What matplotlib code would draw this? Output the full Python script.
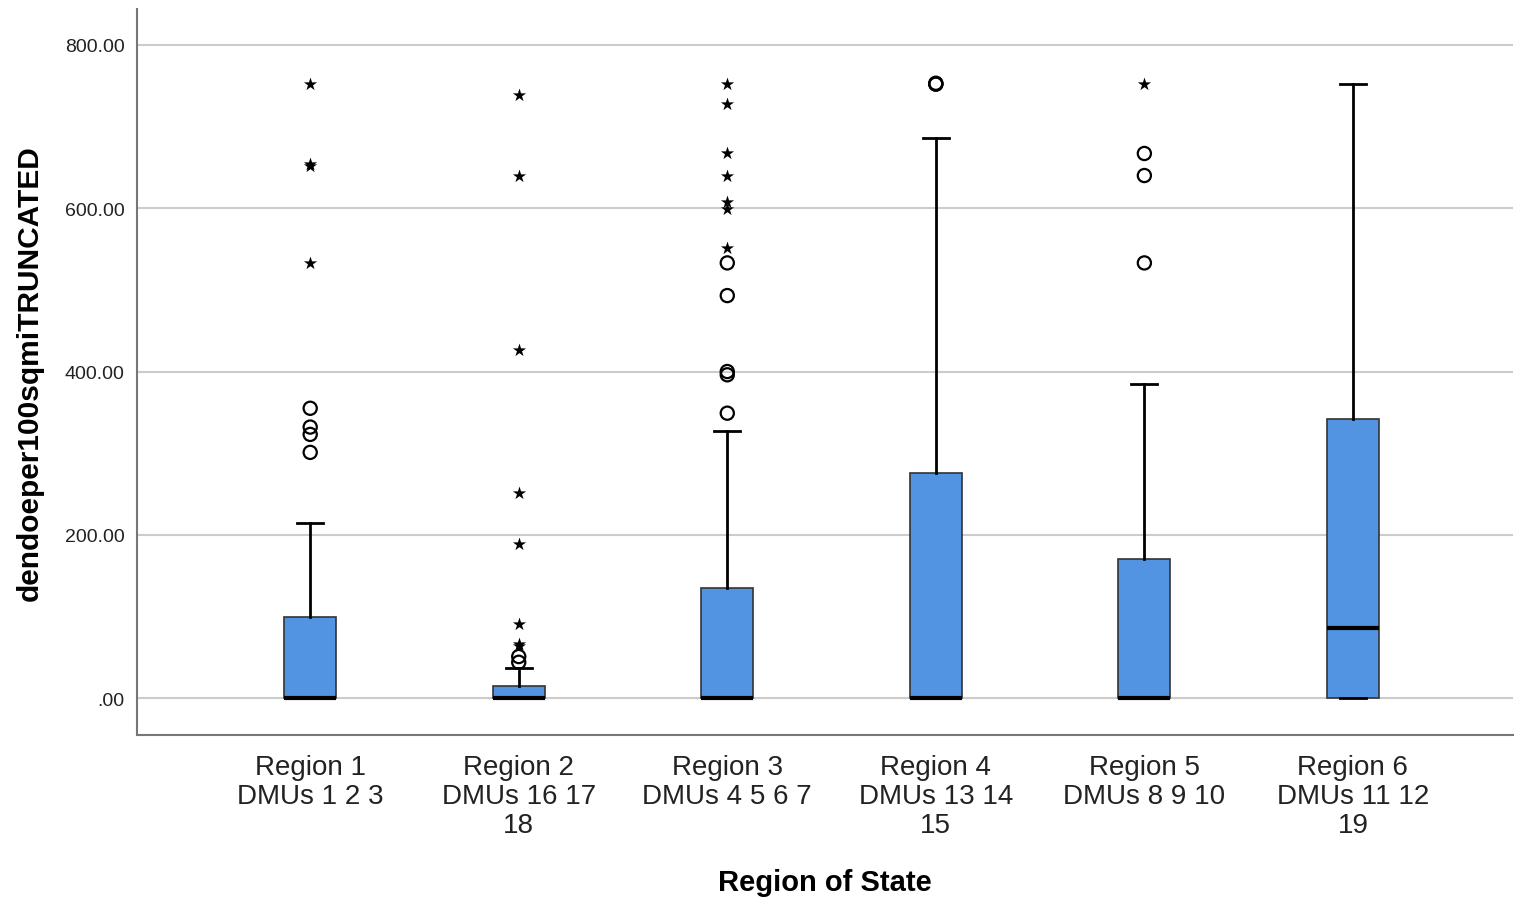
import matplotlib.pyplot as plt

plt.rcParams['font.family'] = ['Liberation Sans', 'DejaVu Sans']

labels = ['Region 1\nDMUs 1 2 3', 'Region 2\nDMUs 16 17\n18', 'Region 3\nDMUs 4 5 6 7',
          'Region 4\nDMUs 13 14\n15', 'Region 5\nDMUs 8 9 10', 'Region 6\nDMUs 11 12\n19']
q1 = [0, 0, 0, 0, 0, 0]
med = [0, 0, 0, 0, 0, 86]
q3 = [100, 15, 135, 276, 171, 342]
whislo = [0, 0, 0, 0, 0, 0]
whishi = [214, 37, 327, 686, 385, 752]

# mild outliers (circles) and extreme outliers (stars)
circles = [
    [355, 332, 323, 301],
    [44, 51],
    [349, 396, 400, 493, 533],
    [752, 752, 753],
    [667, 640, 533],
    [],
]
stars = [
    [533, 652, 654, 752],
    [64, 66, 91, 189, 251, 426, 640, 739],
    [551, 599, 607, 640, 667, 728, 752],
    [],
    [752],
    [],
]

fig, ax = plt.subplots(figsize=(15.15, 9.03), dpi=100)
fig.subplots_adjust(left=0.0905, right=0.999, top=0.989, bottom=0.185)

stats = []
for i in range(len(labels)):
    stats.append({'q1': q1[i], 'med': med[i], 'q3': q3[i],
                  'whislo': whislo[i], 'whishi': whishi[i], 'fliers': []})

ax.bxp(stats, positions=range(len(labels)), widths=0.25, patch_artist=True, showfliers=False,
       boxprops=dict(facecolor='#5294E2', edgecolor='#333333', linewidth=1.2),
       medianprops=dict(color='black', linewidth=3),
       whiskerprops=dict(color='black', linewidth=2),
       capprops=dict(color='black', linewidth=2), capwidths=0.125)

for i in range(len(labels)):
    if circles[i]:
        ax.scatter([i] * len(circles[i]), circles[i], s=90, facecolors='none',
                   edgecolors='black', linewidths=1.6, zorder=4)
    if stars[i]:
        ax.scatter([i] * len(stars[i]), stars[i], s=100, marker='*', color='black',
                   linewidths=0, zorder=4)

ax.set_xlim(-0.83, 5.77)
ax.set_ylim(-45, 844)
ax.set_yticks([0, 200, 400, 600, 800])
ax.set_yticklabels(['.00', '200.00', '400.00', '600.00', '800.00'], fontsize=14, color='#222222')
ax.set_xticks(range(len(labels)))
ax.set_xticklabels(labels, fontsize=20, color='#222222', linespacing=1.13)
ax.tick_params(length=0, pad=14)
ax.tick_params(axis='y', pad=9)
ax.yaxis.grid(True, color='#cccccc', linewidth=1.5)
ax.set_axisbelow(True)
for s in ['top', 'right']:
    ax.spines[s].set_visible(False)
for s in ['left', 'bottom']:
    ax.spines[s].set_color('#777777')
    ax.spines[s].set_linewidth(1.5)

ax.set_ylabel('dendoeper100sqmiTRUNCATED', fontsize=21.5, fontweight='bold', labelpad=15)
ax.set_xlabel('Region of State', fontsize=21, fontweight='bold', labelpad=22)

plt.savefig('out.png')
